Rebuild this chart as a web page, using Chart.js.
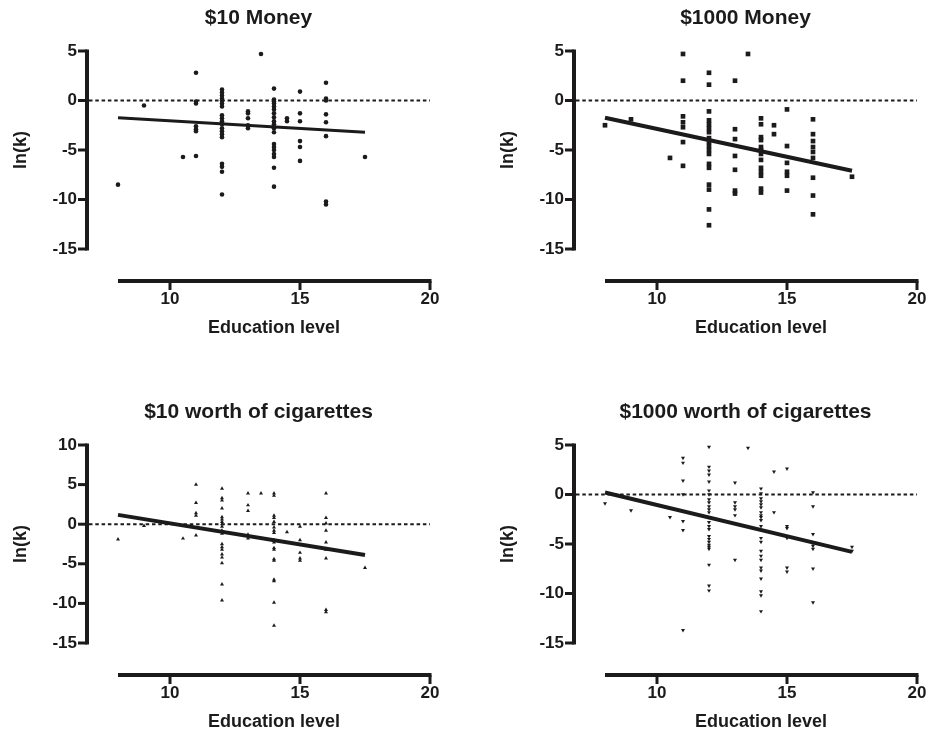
<!DOCTYPE html>
<html>
<head>
<meta charset="utf-8">
<script src="https://cdn.jsdelivr.net/npm/chart.js@4.4.1/dist/chart.umd.min.js"></script>
<style>
  body { margin: 0; background: #fff; width: 930px; height: 735px; position: relative; overflow: hidden; }
  .panel { position: absolute; width: 443px; height: 341px; }
</style>
</head>
<body>
<div class="panel" style="left:0;top:0"><canvas id="money10"></canvas></div>
<div class="panel" style="left:487px;top:0"><canvas id="money1000"></canvas></div>
<div class="panel" style="left:0;top:394px"><canvas id="cig10"></canvas></div>
<div class="panel" style="left:487px;top:394px"><canvas id="cig1000"></canvas></div>
<script>
// Education levels (x) - one list of ln(k) values per level in each panel
const levels = [8, 9, 10.5, 11, 12, 13, 13.5, 14, 14.5, 15, 16, 17.5];

const money10 = [
  [-8.5], [-0.5], [-5.7],
  [2.8, -0.1, -0.3, -2.6, -2.9, -3.1, -5.6],
  [1.1, 0.8, 0.5, 0.2, 0, -0.3, -0.6, -1.5, -1.8, -2.1, -2.4, -2.8, -3.1, -3.4, -3.7, -6.4, -6.7, -7.2, -9.5],
  [-1.1, -1.3, -1.8, -2.5, -2.8],
  [4.7],
  [1.2, 0.1, -0.1, -0.3, -0.6, -0.9, -1.3, -1.7, -2.1, -2.4, -2.8, -3.2, -4.4, -4.7, -5.0, -5.4, -5.7, -6.8, -8.7],
  [-1.8, -2.1],
  [0.9, -1.3, -2.1, -4.1, -4.7, -6.1],
  [1.8, 0.2, 0, -1.4, -2.2, -3.6, -10.2, -10.5],
  [-5.7]
];

const money1000 = [
  [-2.5], [-1.9], [-5.8],
  [4.7, 2.0, -1.6, -2.2, -2.7, -4.2, -6.6],
  [2.8, 1.6, -1.1, -2.0, -2.4, -2.8, -3.2, -3.8, -4.2, -4.6, -5.0, -5.4, -6.4, -6.8, -8.5, -9.0, -11.0, -12.6],
  [2.0, -2.9, -3.9, -5.6, -7.0, -9.1, -9.4],
  [4.7],
  [-1.8, -2.4, -3.7, -4.0, -4.7, -5.0, -5.4, -6.0, -6.8, -7.2, -7.6, -8.9, -9.3],
  [-2.5, -3.4],
  [-0.9, -4.6, -6.3, -7.2, -7.6, -9.1],
  [-1.9, -3.4, -4.1, -4.7, -5.2, -5.8, -7.8, -9.6, -11.5],
  [-7.7]
];

const cig10 = [
  [-1.9], [-0.2], [-1.8],
  [5.0, 2.7, 1.4, 1.1, -1.4],
  [4.5, 3.3, 3.0, 2.0, 0.9, 0.6, 0.3, 0, -0.3, -0.8, -1.2, -2.5, -2.9, -3.2, -3.8, -4.2, -4.9, -7.6, -9.6],
  [3.9, 2.4, 1.7, -1.3, -1.8],
  [3.9],
  [3.9, 3.6, 1.1, 0.8, 0.3, -0.4, -0.8, -1.1, -2.0, -2.3, -3.0, -3.2, -4.4, -4.6, -7.0, -7.2, -9.9, -12.8],
  [-1.0],
  [-0.3, -2.0, -3.6, -4.3, -4.6],
  [3.9, 0.8, 0.1, -0.8, -2.3, -3.2, -4.3, -10.8, -11.1],
  [-5.5]
];

const cig1000 = [
  [-0.9], [-1.6], [-2.3],
  [3.7, 3.2, 1.4, 0, -2.7, -3.6, -13.7],
  [4.8, 2.8, 2.4, 2.0, 1.3, 0.4, 0, -0.5, -0.8, -1.2, -1.5, -1.8, -2.3, -2.8, -3.2, -3.5, -4.2, -4.5, -4.8, -5.1, -5.3, -5.5, -7.1, -9.2, -9.7],
  [1.2, -0.8, -1.2, -1.5, -2.1, -6.6],
  [4.7],
  [0.6, 0.1, -0.4, -0.7, -1.0, -1.3, -1.8, -2.1, -2.3, -2.6, -3.2, -4.4, -4.8, -5.7, -6.2, -6.6, -7.4, -7.7, -8.5, -9.8, -10.2, -11.8],
  [2.3, -1.8],
  [2.6, -3.2, -3.4, -4.4, -7.4, -7.8],
  [0.2, -1.2, -4.0, -4.9, -5.2, -5.5, -7.5, -10.9],
  [-5.3, -5.7]
];

// regression lines, from first to last education level
const fitX = [8, 17.5];
const fitMoney10 = [-1.74, -3.2];
const fitMoney1000 = [-1.74, -7.1];
const fitCig10 = [1.18, -3.89];
const fitCig1000 = [0.2, -5.8];

// tick labels
const xTicks = [10, 15, 20];
const yTicksMoney = [5, 0, -5, -10, -15];
const yTicksCig10 = [10, 5, 0, -5, -10, -15];

const ink = '#1c1a1b';
const fontFamily = '"Liberation Sans", Arial, Helvetica, sans-serif';

// Prism style: axes detached from the data area, dotted line at ln(k) = 0
const prismAxes = {
  id: 'prismAxes',
  beforeDatasetsDraw(chart, args, opts) {
    const { ctx, chartArea, scales: { x, y } } = chart;
    const ax = chartArea.left - 31;
    const ay = chartArea.bottom + 32;
    const xEnd = x.getPixelForValue(x.max);
    ctx.save();
    ctx.strokeStyle = ink;
    ctx.fillStyle = ink;

    // y axis
    ctx.lineWidth = 4;
    ctx.beginPath();
    ctx.moveTo(ax, y.getPixelForValue(y.max) - 1.5);
    ctx.lineTo(ax, y.getPixelForValue(y.min) + 1.5);
    ctx.stroke();
    ctx.lineWidth = 3;
    y.ticks.forEach(t => {
      const py = y.getPixelForValue(t.value);
      ctx.beginPath();
      ctx.moveTo(ax - 9, py);
      ctx.lineTo(ax, py);
      ctx.stroke();
    });

    // x axis
    ctx.lineWidth = 4;
    ctx.beginPath();
    ctx.moveTo(x.getPixelForValue(x.min), ay);
    ctx.lineTo(xEnd + 1.5, ay);
    ctx.stroke();
    ctx.lineWidth = 3;
    x.ticks.forEach(t => {
      const px = x.getPixelForValue(t.value);
      ctx.beginPath();
      ctx.moveTo(px, ay);
      ctx.lineTo(px, ay + 9);
      ctx.stroke();
    });

    // zero line
    const y0 = y.getPixelForValue(0);
    ctx.lineWidth = 2;
    ctx.setLineDash([3.5, 2.8]);
    ctx.beginPath();
    ctx.moveTo(ax + 2, y0);
    ctx.lineTo(xEnd, y0);
    ctx.stroke();
    ctx.setLineDash([]);

    // panel title
    ctx.font = 'bold 21px ' + fontFamily;
    ctx.textAlign = 'center';
    ctx.textBaseline = 'middle';
    ctx.fillText(opts.title, (ax + xEnd) / 2, chartArea.top - 33);
    ctx.restore();
  }
};

function points(groups) {
  const out = [];
  groups.forEach((vals, i) => vals.forEach(v => out.push({ x: levels[i], y: v })));
  return out;
}

function makePanel(id, title, groups, fit, yTicks, marker) {
  new Chart(document.getElementById(id), {
    type: 'scatter',
    data: {
      datasets: [
        {
          data: points(groups),
          backgroundColor: ink,
          borderWidth: 0,
          pointStyle: marker.style,
          pointRadius: marker.radius,
          rotation: marker.rotation || 0,
          clip: false
        },
        {
          type: 'line',
          data: fitX.map((x, i) => ({ x: x, y: fit[i] })),
          borderColor: ink,
          borderWidth: marker.lineWidth,
          pointRadius: 0,
          clip: false
        }
      ]
    },
    options: {
      responsive: true,
      maintainAspectRatio: false,
      animation: false,
      events: [],
      layout: { padding: { left: 10, right: 13, top: 51, bottom: 2 } },
      plugins: {
        legend: { display: false },
        tooltip: { enabled: false },
        prismAxes: { title: title }
      },
      scales: {
        x: {
          type: 'linear',
          min: 8,
          max: 20,
          afterBuildTicks: s => { s.ticks = xTicks.map(v => ({ value: v })); },
          // fixed height; the big label padding must not shrink the plot sideways
          afterFit: s => { s.height = 90; s.paddingLeft = 0; s.paddingRight = 0; },
          grid: { display: false, drawTicks: false },
          border: { display: false },
          ticks: { padding: 40, color: ink, font: { family: fontFamily, size: 17, weight: 'bold' } },
          title: {
            display: true, text: 'Education level', color: ink, padding: 0,
            font: { family: fontFamily, size: 18, weight: 'bold' }
          }
        },
        y: {
          min: yTicks[yTicks.length - 1],
          max: yTicks[0],
          afterBuildTicks: s => { s.ticks = yTicks.map(v => ({ value: v })); },
          afterFit: s => { s.width = 108; s.paddingTop = 0; s.paddingBottom = 0; },
          grid: { display: false, drawTicks: false },
          border: { display: false },
          ticks: { padding: 41, color: ink, font: { family: fontFamily, size: 17, weight: 'bold' } },
          title: {
            display: true, text: 'ln(k)', color: ink, padding: 0,
            font: { family: fontFamily, size: 18, weight: 'bold' }
          }
        }
      }
    },
    plugins: [prismAxes]
  });
}

makePanel('money10', '$10 Money', money10, fitMoney10, yTicksMoney,
  { style: 'circle', radius: 2.3, lineWidth: 3 });
makePanel('money1000', '$1000 Money', money1000, fitMoney1000, yTicksMoney,
  { style: 'rect', radius: 3.3, lineWidth: 4 });
makePanel('cig10', '$10 worth of cigarettes', cig10, fitCig10, yTicksCig10,
  { style: 'triangle', radius: 2.3, lineWidth: 4 });
makePanel('cig1000', '$1000 worth of cigarettes', cig1000, fitCig1000, yTicksMoney,
  { style: 'triangle', radius: 2.3, rotation: 180, lineWidth: 4 });
</script>
</body>
</html>
